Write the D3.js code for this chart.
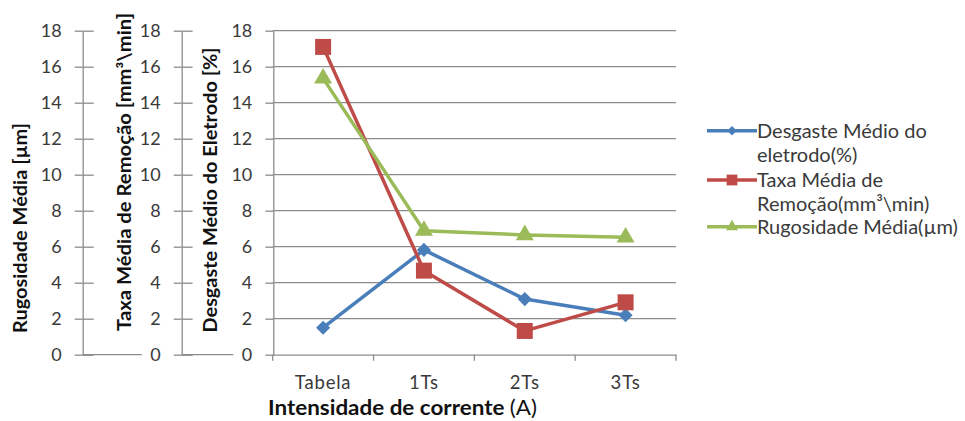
<!DOCTYPE html>
<html><head><meta charset="utf-8">
<script src="https://cdn.jsdelivr.net/npm/d3@7"></script>
<style>
html,body{margin:0;padding:0;background:#fff;}
svg{display:block;}
text{font-family:Lato,"Open Sans",sans-serif;}
</style></head>
<body><svg id="c" width="965" height="421"></svg>
<script>
const categories = ["Tabela","1Ts","2Ts","3Ts"];
const desgaste = [1.5, 5.82, 3.09, 2.19];      // Desgaste Médio do eletrodo(%)
const taxa = [17.1, 4.67, 1.32, 2.91];          // Taxa Média de Remoção(mm³\min)
const rugosidade = [15.35, 6.89, 6.65, 6.52];   // Rugosidade Média(µm)
const yTicks = [0,2,4,6,8,10,12,14,16,18];
const seriesNames = [["Desgaste Médio do","eletrodo(%)"],["Taxa Média de","Remoção(mm³\\min)"],["Rugosidade Média(µm)"]];
const axisTitles = ["Rugosidade Média [µm]","Taxa Média de Remoção  [mm³\\min]","Desgaste Médio do Eletrodo [%]"];
const xTitle = "Intensidade de corrente ";

const svg = d3.select("#c");
const y = d3.scaleLinear().domain([0,18]).range([354.7,30.7]);
const x = d3.scaleBand().domain(categories).range([272.7,676]);
const gridCol = "#8c8c8c", textCol = "#3a3a3a";

// gridlines
svg.append("g").selectAll("line").data(yTicks.filter(d=>d>0)).join("line")
  .attr("x1",272.7).attr("x2",676).attr("y1",d=>y(d)).attr("y2",d=>y(d))
  .attr("stroke",gridCol).attr("stroke-width",1.3);

// left axes
const axisX = [82.7, 181.7, 273.3];
axisX.forEach((ax,i)=>{
  const gL = svg.append("g").attr("transform",`translate(${ax},0)`)
    .call(d3.axisLeft(y).tickValues(yTicks).tickSize(8).tickPadding(13).tickSizeOuter(0));
  gL.select(".domain").attr("stroke",gridCol).attr("stroke-width",1.3);
  gL.selectAll(".tick line").attr("stroke",gridCol).attr("stroke-width",1.3);
  gL.selectAll(".tick text").attr("fill",textCol).style("font-size","18px").style("font-family","Lato");
  if(i<2){
    const gR = svg.append("g").attr("transform",`translate(${ax},0)`)
      .call(d3.axisRight(y).tickValues(yTicks).tickSize(11).tickFormat(""));
    gR.select(".domain").remove();
    gR.selectAll(".tick line").attr("stroke",gridCol).attr("stroke-width",1.3);
    svg.append("line").attr("x1",ax).attr("x2",axisX[i+1]-40).attr("y1",y(0)).attr("y2",y(0))
      .attr("stroke",gridCol).attr("stroke-width",1.3);
  }
});

// bottom axis
const gx = svg.append("g").attr("transform",`translate(0,${y(0)})`)
  .call(d3.axisBottom(x).tickSize(0).tickPadding(21).tickSizeOuter(0));
gx.select(".domain").attr("stroke",gridCol).attr("stroke-width",1.3);
gx.selectAll(".tick text").attr("fill",textCol).style("font-size","18.5px").style("font-family","Lato").attr("letter-spacing","0.8");
svg.append("g").selectAll("line").data(x.domain().concat(["end"])).join("line")
  .attr("x1",(d,i)=>272.7+i*x.bandwidth()).attr("x2",(d,i)=>272.7+i*x.bandwidth())
  .attr("y1",y(0)).attr("y2",y(0)+6).attr("stroke",gridCol).attr("stroke-width",1.3);

// axis titles
const titlePos = [[21,228],[125,172],[211,190]];
const titleLen = [210, 318, 285];
axisTitles.forEach((t,i)=>{
  svg.append("text").attr("transform",`translate(${titlePos[i][0]},${titlePos[i][1]}) rotate(-90)`)
    .attr("text-anchor","middle").attr("dy","0.35em").attr("fill","#111")
    .attr("textLength",titleLen[i]).attr("lengthAdjust","spacingAndGlyphs")
    .style("font-size","18px").style("font-weight","bold").text(t);
});
const xt = svg.append("text").attr("x",268).attr("y",415).attr("fill","#111")
  .attr("textLength",269).attr("lengthAdjust","spacingAndGlyphs")
  .style("font-size","21px").style("font-weight","bold");
xt.append("tspan").text(xTitle);
xt.append("tspan").style("font-weight","normal").text("(A)");

// series
const series = [
  {vals:desgaste, color:"#4a7ebb", sym:d3.symbolSquare, size:100, rot:45},
  {vals:taxa, color:"#be4b48", sym:d3.symbolSquare, size:256, rot:0},
  {vals:rugosidade, color:"#9bbb59", sym:d3.symbolTriangle, size:140, rot:0}
];
const cx = d=>x(d)+x.bandwidth()/2;
const line = d3.line().x(d=>cx(d.c)).y(d=>y(d.v));
series.forEach(s=>{
  const pts = categories.map((c,i)=>({c, v:s.vals[i]}));
  svg.append("path").datum(pts).attr("d",line).attr("fill","none")
    .attr("stroke",s.color).attr("stroke-width",3.5).attr("stroke-linejoin","round");
});
series.forEach(s=>{
  const pts = categories.map((c,i)=>({c, v:s.vals[i]}));
  svg.append("g").selectAll("path").data(pts).join("path")
    .attr("d",d3.symbol().type(s.sym).size(s.size))
    .attr("transform",d=>`translate(${cx(d.c)},${y(d.v)}) rotate(${s.rot})`)
    .attr("fill",s.color);
});

// legend
const legY = [130.7, 180, 226.7];
series.forEach((s,i)=>{
  const g = svg.append("g").attr("transform",`translate(0,${legY[i]})`);
  g.append("line").attr("x1",707).attr("x2",757).attr("stroke",s.color).attr("stroke-width",3.5);
  g.append("path").attr("d",d3.symbol().type(s.sym).size(s.size*0.45))
    .attr("transform",`translate(732,0) rotate(${s.rot})`).attr("fill",s.color);
  const t = g.append("text").attr("x",757).attr("y",0).attr("fill",textCol)
    .style("font-size","20px");
  seriesNames[i].forEach((ln,k)=>{
    t.append("tspan").attr("x",757).attr("dy",k===0?"0.35em":"24px").text(ln);
  });
});
</script></body></html>
